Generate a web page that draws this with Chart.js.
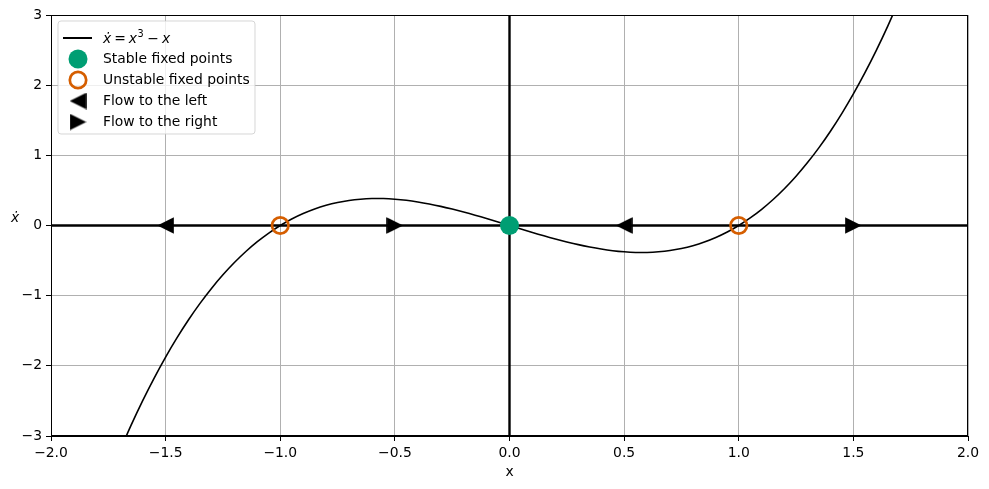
<!DOCTYPE html>
<html>
<head>
<meta charset="utf-8">
<script src="https://cdn.jsdelivr.net/npm/chart.js@4.4.1/dist/chart.umd.min.js"></script>
<style>
  body { margin: 0; background: #fff; }
  #wrap { width: 989px; height: 489px; }
</style>
</head>
<body>
<div id="wrap"><canvas id="phaseChart" width="989" height="489"></canvas></div>
<script>
// curve xdot = x^3 - x
const curveX = [-1.70, -1.65, -1.60, -1.55, -1.50, -1.45, -1.40, -1.35, -1.30, -1.25, -1.20, -1.15,
  -1.10, -1.05, -1.00, -0.95, -0.90, -0.85, -0.80, -0.75, -0.70, -0.65, -0.60, -0.55, -0.50,
  -0.45, -0.40, -0.35, -0.30, -0.25, -0.20, -0.15, -0.10, -0.05, 0.00, 0.05, 0.10, 0.15, 0.20,
  0.25, 0.30, 0.35, 0.40, 0.45, 0.50, 0.55, 0.60, 0.65, 0.70, 0.75, 0.80, 0.85, 0.90, 0.95,
  1.00, 1.05, 1.10, 1.15, 1.20, 1.25, 1.30, 1.35, 1.40, 1.45, 1.50, 1.55, 1.60, 1.65, 1.70];
const curveY = [-3.213, -2.842, -2.496, -2.174, -1.875, -1.599, -1.344, -1.110, -0.897, -0.703,
  -0.528, -0.371, -0.231, -0.108, 0.000, 0.093, 0.171, 0.236, 0.288, 0.328, 0.357, 0.375, 0.384,
  0.384, 0.375, 0.359, 0.336, 0.307, 0.273, 0.234, 0.192, 0.147, 0.099, 0.050, 0.000, -0.050,
  -0.099, -0.147, -0.192, -0.234, -0.273, -0.307, -0.336, -0.359, -0.375, -0.384, -0.384, -0.375,
  -0.357, -0.328, -0.288, -0.236, -0.171, -0.093, 0.000, 0.108, 0.231, 0.371, 0.528, 0.703,
  0.897, 1.110, 1.344, 1.599, 1.875, 2.174, 2.496, 2.842, 3.213];

const stableX = [0];
const unstableX = [-1, 1];
const flowLeftX = [-1.5, 0.5];
const flowRightX = [-0.5, 1.5];

const xTicks = [-2.0, -1.5, -1.0, -0.5, 0.0, 0.5, 1.0, 1.5, 2.0];
const yTicks = [-3, -2, -1, 0, 1, 2, 3];

const legendLabels = ['Stable fixed points', 'Unstable fixed points', 'Flow to the left', 'Flow to the right'];

const GREEN = '#009E73';
const ORANGE = '#D55E00';
const FONT = 'DejaVu Sans';

// triangle markers as small canvases
function triangle(dir) {
  const s = 17;
  const c = document.createElement('canvas');
  c.width = s; c.height = s;
  const g = c.getContext('2d');
  g.fillStyle = '#000';
  g.beginPath();
  if (dir === 'left') {
    g.moveTo(0.2, s / 2); g.lineTo(s - 0.2, 0.2); g.lineTo(s - 0.2, s - 0.2);
  } else {
    g.moveTo(s - 0.2, s / 2); g.lineTo(0.2, 0.2); g.lineTo(0.2, s - 0.2);
  }
  g.closePath();
  g.fill();
  return c;
}
const triLeft = triangle('left');
const triRight = triangle('right');

const minus = v => String(v).replace('-', '\u2212');

function drawMathLabel(ctx, x, y) {
  // xdot = x^3 - x
  const it = 'italic 13.9px ' + FONT;
  const up = '13.9px ' + FONT;
  ctx.textBaseline = 'alphabetic';
  ctx.textAlign = 'left';
  let cx = x;
  ctx.font = it;
  ctx.fillText('\u1E8B', cx, y);
  cx += ctx.measureText('\u1E8B').width + 3;
  ctx.font = up;
  ctx.fillText('=', cx, y);
  cx += ctx.measureText('=').width + 3;
  ctx.font = it;
  ctx.fillText('x', cx, y);
  cx += ctx.measureText('x').width + 0.5;
  ctx.font = '9.7px ' + FONT;
  ctx.fillText('3', cx, y - 6);
  cx += ctx.measureText('3').width + 3.5;
  ctx.font = up;
  ctx.fillText('\u2212', cx, y);
  cx += ctx.measureText('\u2212').width + 3;
  ctx.font = it;
  ctx.fillText('x', cx, y);
}

const extras = {
  id: 'extras',
  afterDraw(chart) {
    const ctx = chart.ctx;
    const a = chart.chartArea;
    ctx.save();
    // top/right spines
    ctx.strokeStyle = '#000';
    ctx.lineWidth = 1;
    ctx.strokeRect(a.left + 0.5, a.top + 0.5, a.right - a.left - 1, a.bottom - a.top - 1);

    // axis labels
    ctx.fillStyle = '#000';
    ctx.font = '13.9px ' + FONT;
    ctx.textAlign = 'center';
    ctx.textBaseline = 'middle';
    ctx.fillText('x', (a.left + a.right) / 2, 472);
    ctx.font = 'italic 13.9px ' + FONT;
    ctx.textBaseline = 'alphabetic';
    ctx.fillText('\u1E8B', 15, 222);

    // legend
    const bx = 58, by = 21, bw = 197, bh = 113, r = 3;
    ctx.beginPath();
    ctx.moveTo(bx + r, by);
    ctx.arcTo(bx + bw, by, bx + bw, by + bh, r);
    ctx.arcTo(bx + bw, by + bh, bx, by + bh, r);
    ctx.arcTo(bx, by + bh, bx, by, r);
    ctx.arcTo(bx, by, bx + bw, by, r);
    ctx.closePath();
    ctx.fillStyle = 'rgba(255,255,255,0.8)';
    ctx.fill();
    ctx.strokeStyle = 'rgba(204,204,204,0.8)';
    ctx.lineWidth = 1;
    ctx.stroke();

    const mx = 78, tx = 103;
    const rows = [38, 59, 80, 101, 122];
    ctx.strokeStyle = '#000';
    ctx.lineWidth = 2;
    ctx.beginPath();
    ctx.moveTo(63, rows[0]);
    ctx.lineTo(92, rows[0]);
    ctx.stroke();

    ctx.fillStyle = GREEN;
    ctx.beginPath();
    ctx.arc(mx, rows[1], 9.5, 0, Math.PI * 2);
    ctx.fill();

    ctx.strokeStyle = ORANGE;
    ctx.lineWidth = 2.7;
    ctx.beginPath();
    ctx.arc(mx, rows[2], 8.2, 0, Math.PI * 2);
    ctx.stroke();

    ctx.drawImage(triLeft, mx - 8.5, rows[3] - 8.5);
    ctx.drawImage(triRight, mx - 8.5, rows[4] - 8.5);

    ctx.fillStyle = '#000';
    drawMathLabel(ctx, tx, rows[0] + 5);
    ctx.font = '13.9px ' + FONT;
    ctx.textAlign = 'left';
    ctx.textBaseline = 'middle';
    legendLabels.forEach((t, i) => ctx.fillText(t, tx, rows[i + 1] + 0.5));
    ctx.restore();
  }
};

const zeroPts = xs => xs.map(x => ({ x: x, y: 0 }));

new Chart(document.getElementById('phaseChart'), {
  type: 'scatter',
  data: {
    datasets: [
      {
        label: 'stable',
        data: zeroPts(stableX),
        pointRadius: 9.5,
        pointHoverRadius: 9.5,
        backgroundColor: GREEN,
        borderWidth: 0,
        order: 1
      },
      {
        label: 'unstable',
        data: zeroPts(unstableX),
        pointRadius: 8.2,
        pointHoverRadius: 8.2,
        backgroundColor: 'rgba(0,0,0,0)',
        borderColor: ORANGE,
        borderWidth: 2.7,
        order: 2
      },
      {
        label: 'left',
        data: zeroPts(flowLeftX),
        pointStyle: triLeft,
        order: 3
      },
      {
        label: 'right',
        data: zeroPts(flowRightX),
        pointStyle: triRight,
        order: 3
      },
      {
        label: 'curve',
        data: curveX.map((x, i) => ({ x: x, y: curveY[i] })),
        showLine: true,
        borderColor: '#000',
        borderWidth: 1.6,
        pointRadius: 0,
        tension: 0.3,
        order: 4
      },
      {
        label: 'xaxis',
        data: [{ x: xTicks[0], y: 0 }, { x: xTicks[xTicks.length - 1], y: 0 }],
        showLine: true,
        borderColor: '#000',
        borderWidth: 2.4,
        pointRadius: 0,
        order: 5
      },
      {
        label: 'yaxis',
        data: [{ x: 0, y: yTicks[0] }, { x: 0, y: yTicks[yTicks.length - 1] }],
        showLine: true,
        borderColor: '#000',
        borderWidth: 2.4,
        pointRadius: 0,
        order: 5
      }
    ]
  },
  options: {
    responsive: false,
    animation: false,
    events: [],
    layout: { padding: { top: 15, right: 21, left: 0, bottom: 0 } },
    plugins: { legend: { display: false }, tooltip: { enabled: false } },
    scales: {
      x: {
        type: 'linear',
        min: xTicks[0],
        max: xTicks[xTicks.length - 1],
        afterBuildTicks: s => { s.ticks = xTicks.map(v => ({ value: v })); },
        afterFit: s => { s.height = 53; },
        grid: { color: '#b0b0b0', lineWidth: 1, tickColor: '#000', tickLength: 5 },
        border: { color: '#000', width: 1 },
        ticks: {
          color: '#000',
          padding: 4,
          maxRotation: 0,
          font: { family: FONT, size: 13.9 },
          callback: v => minus(v.toFixed(1))
        }
      },
      y: {
        type: 'linear',
        min: yTicks[0],
        max: yTicks[yTicks.length - 1],
        afterBuildTicks: s => { s.ticks = yTicks.map(v => ({ value: v })); },
        afterFit: s => { s.width = 51; },
        grid: { color: '#b0b0b0', lineWidth: 1, tickColor: '#000', tickLength: 5 },
        border: { color: '#000', width: 1 },
        ticks: {
          color: '#000',
          padding: 4,
          font: { family: FONT, size: 13.9 },
          callback: v => minus(v)
        }
      }
    }
  },
  plugins: [extras]
});
</script>
</body>
</html>
